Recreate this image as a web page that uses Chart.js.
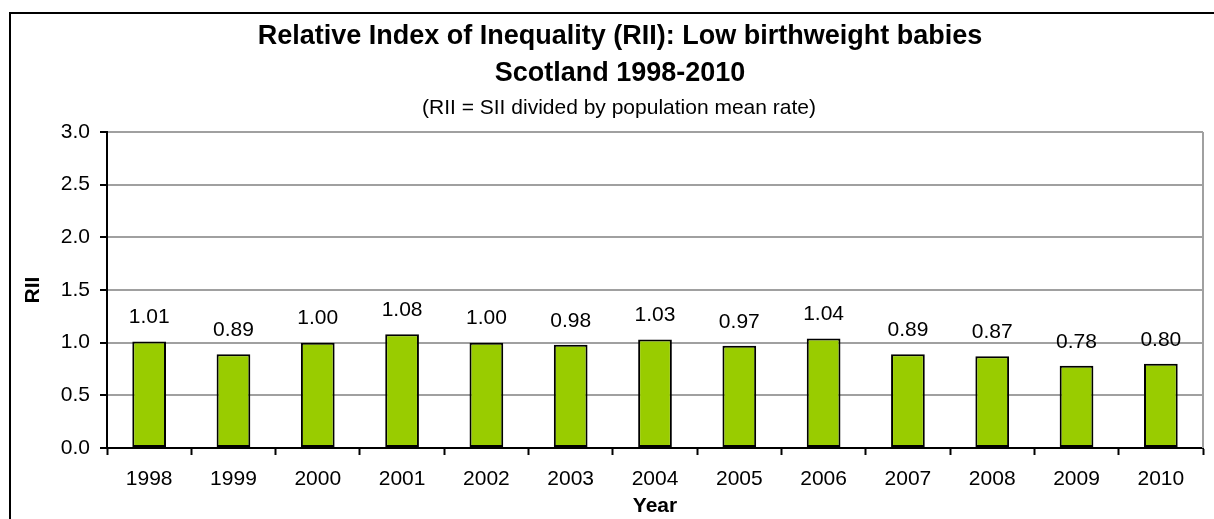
<!DOCTYPE html>
<html>
<head>
<meta charset="utf-8">
<title>RII Low birthweight babies</title>
<script src="https://cdn.jsdelivr.net/npm/chart.js@4.4.1/dist/chart.umd.min.js"></script>
<style>
    html, body { margin: 0; padding: 0; background: #fff; overflow: hidden; }
    #wrap { width: 1214px; height: 519px; }
</style>
</head>
<body>
<div id="wrap"><canvas id="rii-chart" width="1214" height="519"></canvas></div>
<script>
// data
const years = ['1998', '1999', '2000', '2001', '2002', '2003', '2004', '2005', '2006', '2007', '2008', '2009', '2010'];
const riiValues = [1.01, 0.89, 1.00, 1.08, 1.00, 0.98, 1.03, 0.97, 1.04, 0.89, 0.87, 0.78, 0.80];
const titleLines = ['Relative Index of Inequality (RII): Low birthweight babies', 'Scotland 1998-2010'];
const subTitle = '(RII = SII divided by population mean rate)';

const FONT = "'Liberation Sans', Arial, sans-serif";

// outer frame + titles (the titles are centred on the whole excel chart, not the plot)
const framePlugin = {
    id: 'frame',
    beforeDraw(chart) {
        const c = chart.ctx;
        c.save();
        c.fillStyle = '#fff';
        c.fillRect(0, 0, chart.width, chart.height);
        c.strokeStyle = '#000';
        c.lineWidth = 2;
        c.strokeRect(10, 13, chart.width + 50, chart.height + 50);
        c.restore();
    },
    afterDraw(chart) {
        const c = chart.ctx;
        c.save();
        c.fillStyle = '#000';
        c.textAlign = 'center';
        c.textBaseline = 'middle';
        c.font = 'bold 27px ' + FONT;
        c.fillText(titleLines[0], 620, 37);
        c.fillText(titleLines[1], 620, 74);
        c.font = '21px ' + FONT;
        c.fillText(subTitle, 619, 108);
        c.restore();
    }
};

// grey line down the right side of the plot area
const plotEdgePlugin = {
    id: 'plotEdge',
    beforeDatasetsDraw(chart) {
        const a = chart.chartArea;
        const c = chart.ctx;
        c.save();
        c.strokeStyle = '#a0a0a0';
        c.lineWidth = 2;
        c.beginPath();
        c.moveTo(a.right, a.top);
        c.lineTo(a.right, a.bottom);
        c.stroke();
        c.restore();
    }
};

// value labels above the bars
const valueLabels = {
    id: 'valueLabels',
    afterDatasetsDraw(chart) {
        const c = chart.ctx;
        const meta = chart.getDatasetMeta(0);
        c.save();
        c.fillStyle = '#000';
        c.font = '21px ' + FONT;
        c.textAlign = 'center';
        c.textBaseline = 'middle';
        meta.data.forEach((bar, i) => {
            c.fillText(riiValues[i].toFixed(2), bar.x, bar.y - 24);
        });
        c.restore();
    }
};

document.addEventListener('DOMContentLoaded', () => {
    Chart.defaults.font.family = FONT;
    Chart.defaults.color = '#000';

    const ctx = document.getElementById('rii-chart').getContext('2d');
    window.riiChart = new Chart(ctx, {
        type: 'bar',
        data: {
            labels: years,
            datasets: [{
                label: 'RII',
                data: riiValues,
                backgroundColor: '#99cc00',
                borderColor: '#000',
                borderWidth: 2,
                borderSkipped: false,
                barPercentage: 0.4,
                categoryPercentage: 1.0
            }]
        },
        options: {
            responsive: false,
            animation: false,
            layout: {
                padding: { top: 132, left: 0, right: 11, bottom: 0 }
            },
            scales: {
                x: {
                    grid: {
                        offset: true,
                        drawOnChartArea: false,
                        tickLength: 7,
                        tickColor: '#000',
                        tickWidth: 2
                    },
                    border: { color: '#000', width: 2 },
                    ticks: {
                        font: { size: 21 },
                        padding: 12,
                        maxRotation: 0
                    },
                    title: {
                        display: true,
                        text: 'Year',
                        font: { size: 21, weight: 'bold' },
                        padding: { top: 0, bottom: 0 }
                    },
                    afterFit(scale) { scale.height = 71; }
                },
                y: {
                    min: 0,
                    max: 3,
                    ticks: {
                        stepSize: 0.5,
                        font: { size: 21 },
                        padding: 10,
                        callback: (v) => Number(v).toFixed(1)
                    },
                    grid: {
                        color: '#a0a0a0',
                        lineWidth: 2,
                        tickLength: 7,
                        tickColor: '#000',
                        tickWidth: 2
                    },
                    border: { color: '#000', width: 2 },
                    title: {
                        display: true,
                        text: 'RII',
                        font: { size: 21, weight: 'bold' },
                        padding: { top: 21, bottom: 0 }
                    },
                    afterFit(scale) { scale.width = 107; }
                }
            },
            plugins: {
                legend: { display: false },
                tooltip: { enabled: false }
            }
        },
        plugins: [framePlugin, plotEdgePlugin, valueLabels]
    });
});
</script>
</body>
</html>
